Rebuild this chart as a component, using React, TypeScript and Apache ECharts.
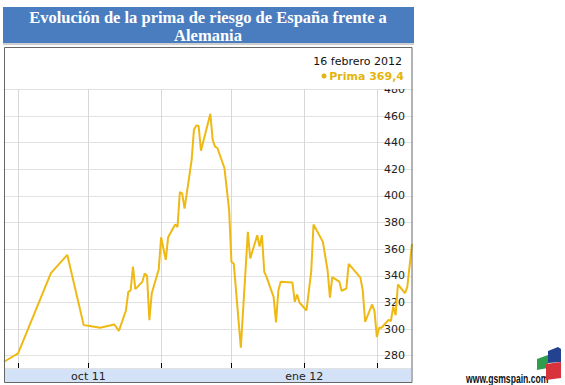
import React, { useEffect, useRef } from "react";
import * as echarts from "echarts";

const obsDates = [
  "2011-08-26", "2011-09-01", "2011-09-15", "2011-09-22", "2011-09-29",
  "2011-10-01", "2011-10-06", "2011-10-12", "2011-10-14", "2011-10-17",
  "2011-10-18", "2011-10-19", "2011-10-20", "2011-10-21", "2011-10-24",
  "2011-10-25", "2011-10-26", "2011-10-27", "2011-10-28", "2011-10-31",
  "2011-11-01", "2011-11-03", "2011-11-04", "2011-11-07", "2011-11-08",
  "2011-11-09", "2011-11-10", "2011-11-11", "2011-11-14", "2011-11-15",
  "2011-11-16", "2011-11-17", "2011-11-18", "2011-11-22", "2011-11-23",
  "2011-11-24", "2011-11-25", "2011-11-28", "2011-11-30", "2011-12-01",
  "2011-12-02", "2011-12-05", "2011-12-08", "2011-12-09", "2011-12-12",
  "2011-12-13", "2011-12-14", "2011-12-15", "2011-12-16", "2011-12-19",
  "2011-12-20", "2011-12-21", "2011-12-22", "2011-12-27", "2011-12-28",
  "2011-12-29", "2011-12-30", "2012-01-02", "2012-01-04", "2012-01-05",
  "2012-01-09", "2012-01-11", "2012-01-12", "2012-01-13", "2012-01-16",
  "2012-01-17", "2012-01-19", "2012-01-20", "2012-01-25", "2012-01-26",
  "2012-01-27", "2012-01-30", "2012-01-31", "2012-02-01", "2012-02-02",
  "2012-02-03", "2012-02-06", "2012-02-07", "2012-02-08", "2012-02-09",
  "2012-02-10", "2012-02-13", "2012-02-14", "2012-02-16",
];

const primaValues = [
  275.5, 281.7, 342, 355.7, 303,
  302.5, 301, 303.5, 298.7, 314,
  328, 329, 347, 330, 335.5,
  341.7, 340, 306.7, 326.7, 345,
  369, 352, 369, 378.5, 376.7,
  403, 401.7, 390.5, 426.7, 449.7,
  453, 452.5, 434, 461.7, 442,
  437, 436, 421, 389.7, 350.5,
  349, 286, 373, 353, 370.5,
  362, 370.5, 343, 339, 324,
  305, 329, 335.5, 335, 320.5,
  326, 320, 314, 343, 378.5,
  365.5, 344, 323.7, 339, 335.7,
  328.7, 330.5, 349, 338.7, 329,
  305.5, 318.5, 313.5, 294, 301,
  301, 307, 306, 317, 310.5,
  333.5, 327, 331.7, 364,
];

const startDate = "2011-08-26";
const endDate = "2012-02-16";
const monthNames = ["ene", "feb", "mar", "abr", "may", "jun", "jul", "ago", "sep", "oct", "nov", "dic"];
const labelledMonths = [9, 0];

const titleLines = ["Evolución de la prima de riesgo de España frente a", "Alemania"];
const dateText = "16 febrero 2012";
const legendText = "Prima 369,4";
const siteText = "www.gsmspain.com";

function buildDays(): string[] {
  const out: string[] = [];
  const s = Date.parse(startDate + "T00:00:00Z");
  const e = Date.parse(endDate + "T00:00:00Z");
  for (let t = s; t <= e; t += 86400000) {
    out.push(new Date(t).toISOString().slice(0, 10));
  }
  return out;
}

export default function App() {
  const ref = useRef<HTMLDivElement>(null);
  useEffect(() => {
    document.body.style.margin = "0";
    if (!ref.current) return;
    const chart = echarts.init(ref.current, undefined, { renderer: "svg" });
    const days = buildDays();
    const lookup: Record<string, number> = {};
    obsDates.forEach((d, i) => (lookup[d] = primaValues[i]));
    const seriesData = days.map((d) => (d in lookup ? lookup[d] : null));
    const isMonthStart = (_i: number, v: string) => v.slice(8, 10) === "01";
    const isLabelled = (_i: number, v: string) =>
      v.slice(8, 10) === "01" && labelledMonths.includes(parseInt(v.slice(5, 7), 10) - 1);

    chart.setOption({
      animation: false,
      backgroundColor: "#ffffff",
      grid: { left: 4, right: 153, top: 89, bottom: 17, containLabel: false },
      xAxis: {
        type: "category",
        data: days,
        boundaryGap: false,
        axisLine: { show: false },
        axisTick: {
          show: true,
          inside: true,
          length: 5,
          interval: isMonthStart,
          lineStyle: { color: "#000", width: 1 },
        },
        splitLine: { show: true, interval: isMonthStart, lineStyle: { color: "#d8d8d8", width: 1 } },
        axisLabel: {
          interval: isLabelled,
          margin: 3,
          color: "#222",
          fontSize: 11,
          fontFamily: "DejaVu Sans",
          formatter: (v: string) => {
            const m = parseInt(v.slice(5, 7), 10) - 1;
            return monthNames[m] + " " + v.slice(2, 4);
          },
        },
      },
      yAxis: {
        type: "value",
        position: "right",
        min: 270.8,
        max: 480.3,
        splitNumber: 10,
        axisLine: { show: false },
        axisTick: { show: false },
        splitLine: { show: true, lineStyle: { color: "#e2e2e2", width: 1 } },
        axisLabel: {
          inside: true,
          margin: 7,
          color: "#222",
          fontSize: 11,
          fontFamily: "DejaVu Sans",
          formatter: (v: number) => (Math.abs(v % 20) < 0.01 ? String(Math.round(v)) : ""),
        },
      },
      series: [
        {
          type: "line",
          data: seriesData,
          connectNulls: true,
          showSymbol: false,
          lineStyle: { color: "#efb914", width: 2 },
          itemStyle: { color: "#efb914" },
          z: 3,
        },
      ],
      graphic: [
        { type: "rect", z: -1, shape: { x: 5, y: 368, width: 406, height: 14 }, style: { fill: "#d3e2f6" } },
        { type: "rect", z: 50, shape: { x: 5, y: 48, width: 406, height: 41 }, style: { fill: "#ffffff" } },
        { type: "rect", z: 10, shape: { x: 3, y: 7, width: 411, height: 36 }, style: { fill: "#4a7dc0" } },
        { type: "rect", z: 10, shape: { x: 3, y: 43, width: 411, height: 2 }, style: { fill: "#cfcfcf" } },
        {
          type: "text", z: 60, x: 208, y: 17,
          style: { text: titleLines[0], fill: "#ffffff", font: "bold 16.5px 'Liberation Serif'", textAlign: "center", textVerticalAlign: "middle" },
        },
        {
          type: "text", z: 60, x: 208, y: 35,
          style: { text: titleLines[1], fill: "#ffffff", font: "bold 16.5px 'Liberation Serif'", textAlign: "center", textVerticalAlign: "middle" },
        },
        {
          type: "text", z: 60, x: 402, y: 61,
          style: { text: dateText, fill: "#111", font: "11px 'DejaVu Sans'", textAlign: "right", textVerticalAlign: "middle" },
        },
        {
          type: "text", z: 60, x: 404, y: 76,
          style: { text: legendText, fill: "#e3b50c", font: "bold 11px 'DejaVu Sans'", textAlign: "right", textVerticalAlign: "middle" },
        },
        { type: "circle", z: 60, shape: { cx: 324, cy: 76, r: 2.5 }, style: { fill: "#e3b50c" } },
        {
          type: "rect", z: 100,
          shape: { x: 4.5, y: 47.5, width: 407.5, height: 335 },
          style: { fill: "none", stroke: "#666", lineWidth: 1 },
        },
        // site logo
        { type: "polygon", z: 60, shape: { points: [[537, 359], [548, 355], [548, 368], [537, 370]] }, style: { fill: "#2e9e4c" } },
        { type: "polygon", z: 61, shape: { points: [[548, 351], [558, 347], [561, 349], [561, 362], [548, 363]] }, style: { fill: "#23428f" } },
        { type: "polygon", z: 62, shape: { points: [[546, 364], [561, 362], [561, 378], [546, 380]] }, style: { fill: "#d8333a" } },
        {
          type: "text", z: 60, x: 466, y: 378, scaleX: 0.69,
          style: { text: siteText, fill: "#111", font: "bold 12.5px 'Liberation Sans'", textAlign: "left", textVerticalAlign: "middle" },
        },
      ],
    });
    return () => chart.dispose();
  }, []);
  return <div ref={ref} style={{ position: "fixed", left: 0, top: 0, width: 565, height: 385 }} />;
}
